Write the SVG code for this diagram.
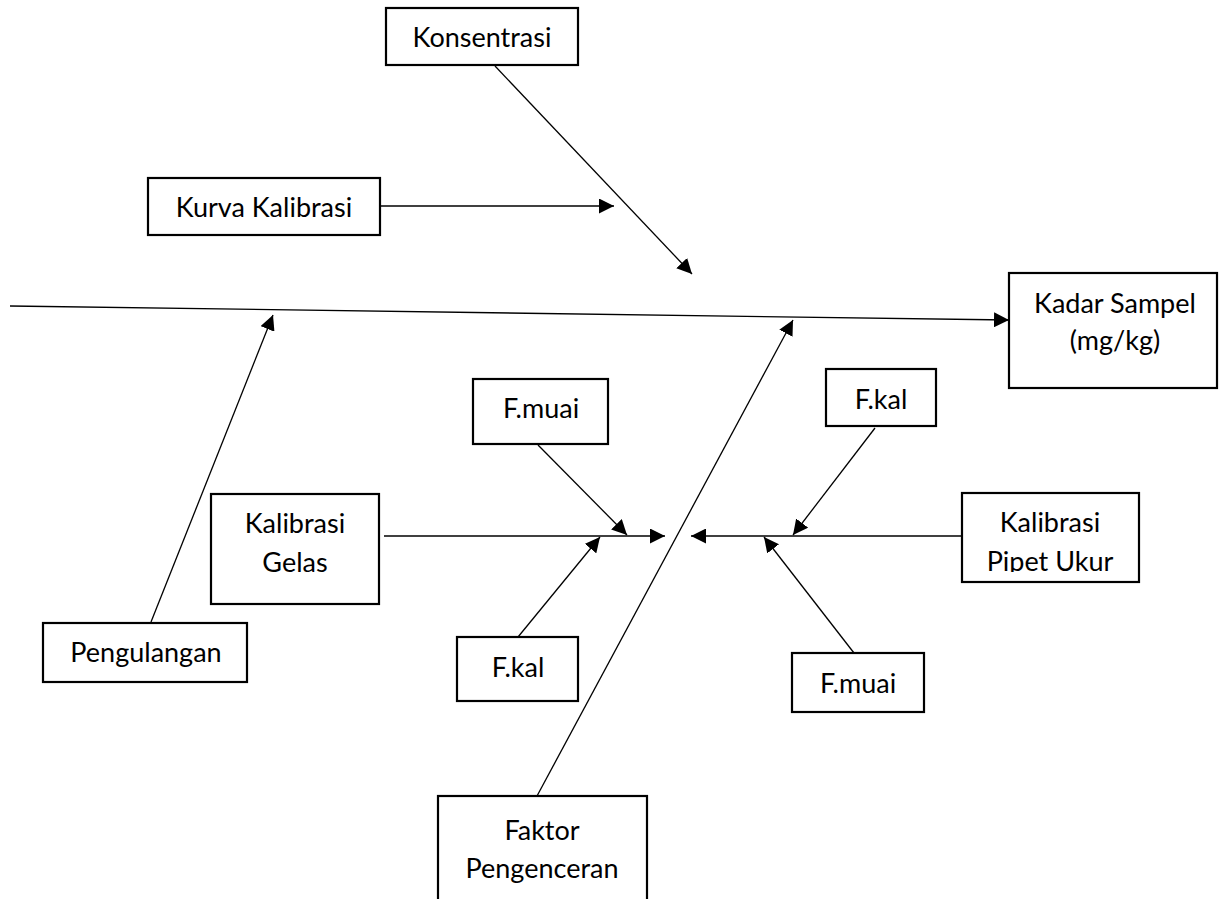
<svg xmlns="http://www.w3.org/2000/svg" width="1220" height="899" viewBox="0 0 1220 899">
<style>
.box{fill:#fff;stroke:#000;stroke-width:2.2}
.t{font-family:Lato,"Liberation Sans",sans-serif;font-size:27px;fill:#000;text-anchor:middle}
.c{stroke:#000;stroke-width:1.3;fill:none;marker-end:url(#ah)}
</style>
<defs>
<marker id="ah" markerUnits="userSpaceOnUse" markerWidth="15" markerHeight="15" refX="15" refY="7.5" orient="auto">
<path d="M0,0 L15,7.5 L0,15 Z" fill="#000"/>
</marker>
<clipPath id="clipPipet"><rect x="962" y="493" width="177" height="79"/></clipPath>
</defs>
<rect width="1220" height="899" fill="#fff"/>
<g id="connectors">
<line class="c" x1="495" y1="66" x2="692" y2="274"/>
<line class="c" x1="380" y1="206" x2="614" y2="206"/>
<line class="c" x1="10" y1="306" x2="1009" y2="320"/>
<line class="c" x1="151" y1="622" x2="273" y2="315"/>
<line class="c" x1="537" y1="796" x2="793" y2="320"/>
<line class="c" x1="384" y1="536" x2="665" y2="536"/>
<line class="c" x1="538" y1="445" x2="627" y2="535"/>
<line class="c" x1="518" y1="637" x2="600" y2="537"/>
<line class="c" x1="962" y1="536" x2="691" y2="536"/>
<line class="c" x1="875" y1="428" x2="793" y2="535"/>
<line class="c" x1="854" y1="653" x2="764" y2="537"/>
</g>
<g id="konsentrasi"><rect class="box" x="386" y="8" width="192" height="57"/><text class="t" x="482" y="47">Konsentrasi</text></g>
<g id="kurva"><rect class="box" x="148" y="178" width="232" height="57"/><text class="t" x="264" y="217">Kurva Kalibrasi</text></g>
<g id="kadar"><rect class="box" x="1009" y="273" width="208" height="115"/><text class="t" x="1115" y="313">Kadar Sampel</text><text class="t" x="1115" y="350">(mg/kg)</text></g>
<g id="fmuai-left"><rect class="box" x="473" y="379" width="135" height="65"/><text class="t" x="541" y="418">F.muai</text></g>
<g id="gelas"><rect class="box" x="211" y="494" width="168" height="110"/><text class="t" x="295" y="533">Kalibrasi</text><text class="t" x="295" y="572">Gelas</text></g>
<g id="fkal-left"><rect class="box" x="457" y="637" width="121" height="64"/><text class="t" x="518" y="677">F.kal</text></g>
<g id="pengulangan"><rect class="box" x="43" y="623" width="204" height="59"/><text class="t" x="146" y="662">Pengulangan</text></g>
<g id="faktor"><rect class="box" x="438" y="796" width="209" height="115"/><text class="t" x="542" y="840">Faktor</text><text class="t" x="542" y="878">Pengenceran</text></g>
<g id="fkal-right"><rect class="box" x="826" y="369" width="110" height="57"/><text class="t" x="881" y="409">F.kal</text></g>
<g id="pipet"><rect class="box" x="962" y="493" width="177" height="89"/><text class="t" x="1050" y="532">Kalibrasi</text><text class="t" x="1050" y="571" clip-path="url(#clipPipet)">Pipet Ukur</text></g>
<g id="fmuai-right"><rect class="box" x="792" y="653" width="132" height="59"/><text class="t" x="858" y="693">F.muai</text></g>
</svg>
